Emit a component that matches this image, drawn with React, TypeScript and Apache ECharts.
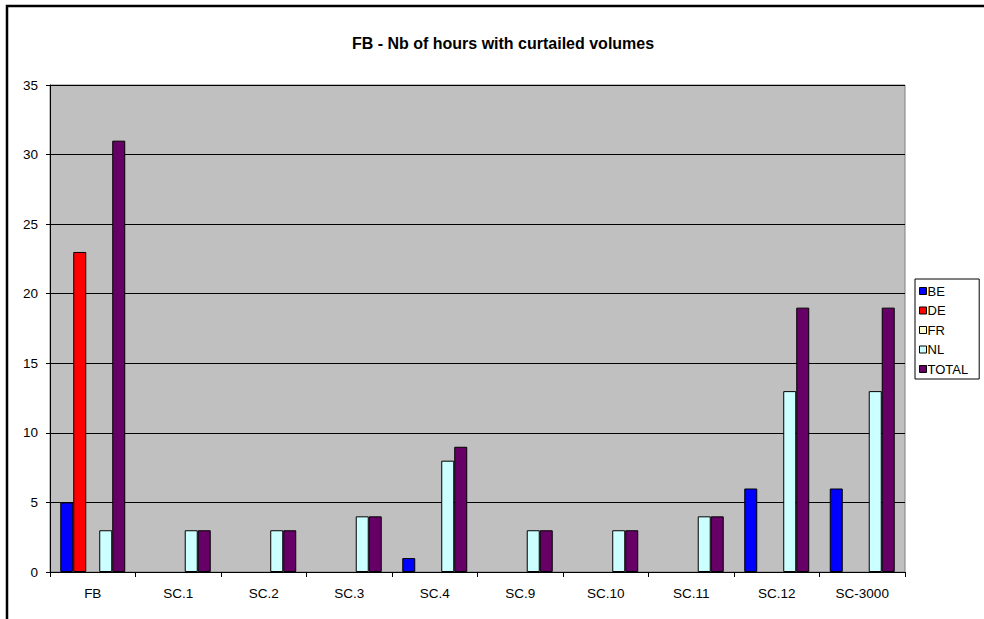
import React, { useEffect, useRef } from "react";
import * as echarts from "echarts";

const categories = ["FB", "SC.1", "SC.2", "SC.3", "SC.4", "SC.9", "SC.10", "SC.11", "SC.12", "SC-3000"];
const seriesNames = ["BE", "DE", "FR", "NL", "TOTAL"];
const beValues = [5, 0, 0, 0, 1, 0, 0, 0, 6, 6];
const deValues = [23, 0, 0, 0, 0, 0, 0, 0, 0, 0];
const frValues = [0, 0, 0, 0, 0, 0, 0, 0, 0, 0];
const nlValues = [3, 3, 3, 4, 8, 3, 3, 4, 13, 13];
const totalValues = [31, 3, 3, 4, 9, 3, 3, 4, 19, 19];
const seriesColors = ["#0000FF", "#FF0000", "#FFFFCC", "#CCFFFF", "#660066"];
const yTicks = [0, 5, 10, 15, 20, 25, 30, 35];

const FONT = 'Arial, "Liberation Sans", sans-serif';

export default function App() {
  const ref = useRef<HTMLDivElement>(null);
  useEffect(() => {
    if (!ref.current) return;
    const chart = echarts.init(ref.current, undefined, { renderer: "svg" });
    const allValues = [beValues, deValues, frValues, nlValues, totalValues];
    chart.setOption({
      animation: false,
      backgroundColor: "#FFFFFF",
      textStyle: { fontFamily: FONT },
      title: {
        text: "FB - Nb of hours with curtailed volumes",
        left: 498,
        textAlign: "center",
        top: 30,
        textStyle: { fontFamily: FONT, fontSize: 16, fontWeight: "bold", color: "#000" },
      },
      graphic: [
        {
          type: "rect",
          shape: { x: 7, y: 6, width: 1000, height: 1000 },
          style: { fill: "none", stroke: "#000", lineWidth: 2.5 },
          silent: true,
          z: 100,
        },
      ],
      legend: {
        orient: "vertical",
        left: 915,
        top: 279,
        data: seriesNames,
        icon: "rect",
        itemWidth: 7,
        itemHeight: 7,
        itemGap: 5.5,
        itemStyle: { borderColor: "#000", borderWidth: 1 },
        padding: [5, 11, 3, 4],
        borderColor: "#000",
        borderWidth: 1,
        backgroundColor: "#FFFFFF",
        textStyle: { fontFamily: FONT, fontSize: 13, color: "#000", padding: [0, 0, 0, -4], lineHeight: 14 },
      },
      grid: {
        left: 50,
        right: 79,
        top: 85,
        bottom: 47,
        show: true,
        backgroundColor: "#C0C0C0",
        borderColor: "#808080",
        borderWidth: 1,
      },
      xAxis: {
        type: "category",
        data: categories,
        axisLine: { lineStyle: { color: "#000", width: 1 } },
        axisTick: { show: true, length: 5, lineStyle: { color: "#000" } },
        axisLabel: { fontFamily: FONT, fontSize: 13.5, color: "#000", margin: 14 },
      },
      yAxis: {
        type: "value",
        min: yTicks[0],
        max: yTicks[yTicks.length - 1],
        interval: 5,
        axisLine: { show: true, lineStyle: { color: "#000", width: 1 } },
        axisTick: { show: true, length: 4, lineStyle: { color: "#000" } },
        axisLabel: { fontFamily: FONT, fontSize: 13.5, color: "#000", margin: 12 },
        splitLine: { show: true, lineStyle: { color: "#000", width: 1 } },
      },
      series: seriesNames.map((name, i) => ({
        name,
        type: "bar",
        data: allValues[i].map((v) => (v === 0 ? "-" : v)),
        barGap: "0%",
        barCategoryGap: "24%",
        itemStyle: { color: seriesColors[i], borderColor: "#000", borderWidth: 1 },
      })),
    });
    return () => chart.dispose();
  }, []);
  return (
    <div
      ref={ref}
      style={{ position: "fixed", left: 0, top: 0, width: 984, height: 619 }}
    />
  );
}
